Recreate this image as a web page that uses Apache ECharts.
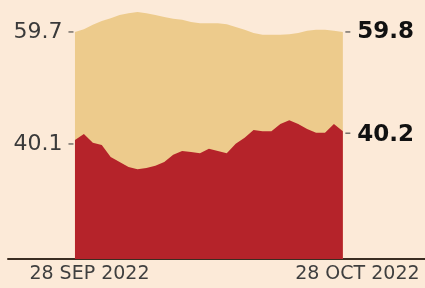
<!DOCTYPE html>
<html>
<head>
<meta charset="utf-8">
<script src="https://cdn.jsdelivr.net/npm/echarts@6/dist/echarts.min.js"></script>
<style>
  html, body { margin: 0; padding: 0; background: #fcead8; }
  #container { width: 425px; height: 288px; }
</style>
</head>
<body>
<div id="container"></div>
<script>
var dom = document.getElementById("container");
var myChart = echarts.init(dom);

// daily values, 28 Sep 2022 -> 28 Oct 2022
var topData = [59.7, 60.2, 61.0, 61.7, 62.2, 62.8, 63.1, 63.3, 63.1, 62.8,
  62.4, 62.1, 61.9, 61.5, 61.3, 61.3, 61.3, 61.1, 60.6, 60.1,
  59.5, 59.2, 59.2, 59.2, 59.3, 59.5, 59.9, 60.1, 60.1, 59.9, 59.7];
var lowData = [40.1, 41.2, 39.6, 39.2, 37.0, 36.1, 35.2, 34.8, 35.0, 35.4,
  36.1, 37.4, 38.1, 37.9, 37.7, 38.5, 38.1, 37.7, 39.4, 40.5,
  41.9, 41.7, 41.7, 43.0, 43.7, 43.0, 42.1, 41.4, 41.4, 43.0, 41.7];
var startLabels = ["59.7", "40.1"];
var endLabels = ["59.8", "40.2"];
var dateLabels = ["28 SEP 2022", "28 OCT 2022"];

var last = topData.length - 1;

function pairs(arr) {
  return arr.map(function (v, i) { return [i, v]; });
}

function endMarks(arr, i) {
  // lower series labels sit a little below their point
  var dy = i === 1 ? 4 : 0;
  return [
    {
      coord: [0, arr[0]],
      symbol: "rect",
      symbolSize: [5, 1],
      symbolOffset: [-4, dy],
      label: {
        show: true,
        position: "left",
        distance: 6,
        formatter: startLabels[i],
        color: "#3a3a3a",
        fontFamily: "DejaVu Sans",
        fontSize: 22
      }
    },
    {
      coord: [last, arr[last]],
      symbol: "rect",
      symbolSize: [5, 1],
      symbolOffset: [5, dy / 2],
      label: {
        show: true,
        position: "right",
        distance: 7,
        offset: [0, dy / 2],
        formatter: endLabels[i],
        color: "#111",
        fontFamily: "DejaVu Sans",
        fontWeight: "bold",
        fontSize: 23
      }
    }
  ];
}

var option = {
  backgroundColor: "#fcead8",
  animation: false,
  grid: { left: 8, right: 0, top: 0, bottom: 29 },
  xAxis: {
    type: "value",
    min: -7.5,
    max: 39.2,
    splitLine: { show: false },
    axisTick: { show: false },
    axisLine: { show: true, onZero: false, lineStyle: { color: "#3b2d22", width: 2 } },
    axisLabel: {
      customValues: [0, last],
      formatter: function (v) { return v === 0 ? dateLabels[0] : dateLabels[1]; },
      color: "#3f3f3f",
      fontFamily: "DejaVu Sans",
      fontSize: 19,
      margin: 6,
      padding: [0, 0, 0, 29]
    }
  },
  yAxis: {
    type: "value",
    min: 18.5,
    max: 65.5,
    show: false
  },
  series: [
    {
      type: "line",
      data: pairs(topData),
      symbol: "none",
      lineStyle: { width: 0 },
      areaStyle: { color: "#edcb8c", opacity: 1 },
      markPoint: {
        itemStyle: { color: "#333" },
        data: endMarks(topData, 0)
      }
    },
    {
      type: "line",
      data: pairs(lowData),
      symbol: "none",
      lineStyle: { width: 0 },
      areaStyle: { color: "#b5232a", opacity: 1 },
      markPoint: {
        itemStyle: { color: "#333" },
        data: endMarks(lowData, 1)
      }
    }
  ]
};

myChart.setOption(option);
</script>
</body>
</html>
